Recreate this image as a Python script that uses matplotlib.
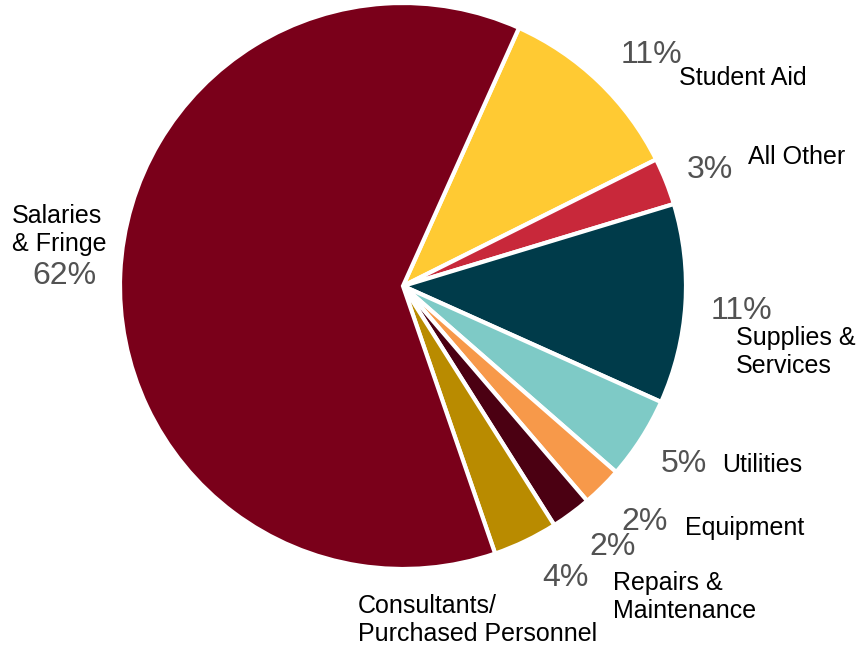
import matplotlib
matplotlib.use('Agg')
import matplotlib.pyplot as plt

plt.rcParams['font.family'] = ['Liberation Sans', 'DejaVu Sans']

# expense categories, clockwise from the top
categories = ['Student Aid', 'All Other', 'Supplies & Services', 'Utilities',
              'Equipment', 'Repairs & Maintenance',
              'Consultants/ Purchased Personnel', 'Salaries & Fringe']
shares = [10.9, 2.7, 11.4, 4.7, 2.3, 2.3, 3.7, 62.0]
colors = ['#FFCA33', '#C8283A', '#003B4A', '#7ECAC6',
          '#F7994A', '#4B0012', '#B98B00', '#7A001A']

# label lines for each category
name_lines = [['Student Aid'], ['All Other'], ['Supplies &', 'Services'],
              ['Utilities'], ['Equipment'], ['Repairs &', 'Maintenance'],
              ['Consultants/', 'Purchased Personnel'], ['Salaries', '& Fringe']]

W, H = 856, 647
fig = plt.figure(figsize=(W / 100, H / 100), dpi=100)
ax = fig.add_axes([0, 0, 1, 1])

ax.pie(shares, colors=colors, startangle=65.8, counterclock=False,
       center=(403, H - 286), radius=283,
       wedgeprops={'edgecolor': 'white', 'linewidth': 3})

ax.set_xlim(0, W)
ax.set_ylim(0, H)
ax.set_aspect('auto')
ax.axis('off')

# (x, baseline) of percent text and name text, in pixels from the top-left
pct_pos = [(621, 63), (687, 178), (711, 319), (661, 472),
           (621, 530), (589, 555), (542, 586), (32, 284)]
name_pos = [(679, 85), (748, 164), (736, 345), (722, 472),
            (685, 535), (613, 590), (358, 613), (12, 223)]
line_step = 28

for v, (px, py), (nx, ny), lines in zip(shares, pct_pos, name_pos, name_lines):
    ax.text(px, H - py, f'{v:.0f}%', fontsize=23, color='#525252',
            ha='left', va='baseline')
    for i, line in enumerate(lines):
        ax.text(nx, H - ny - i * line_step, line, fontsize=18,
                color='black', ha='left', va='baseline')

fig.savefig('out.png', dpi=100)
